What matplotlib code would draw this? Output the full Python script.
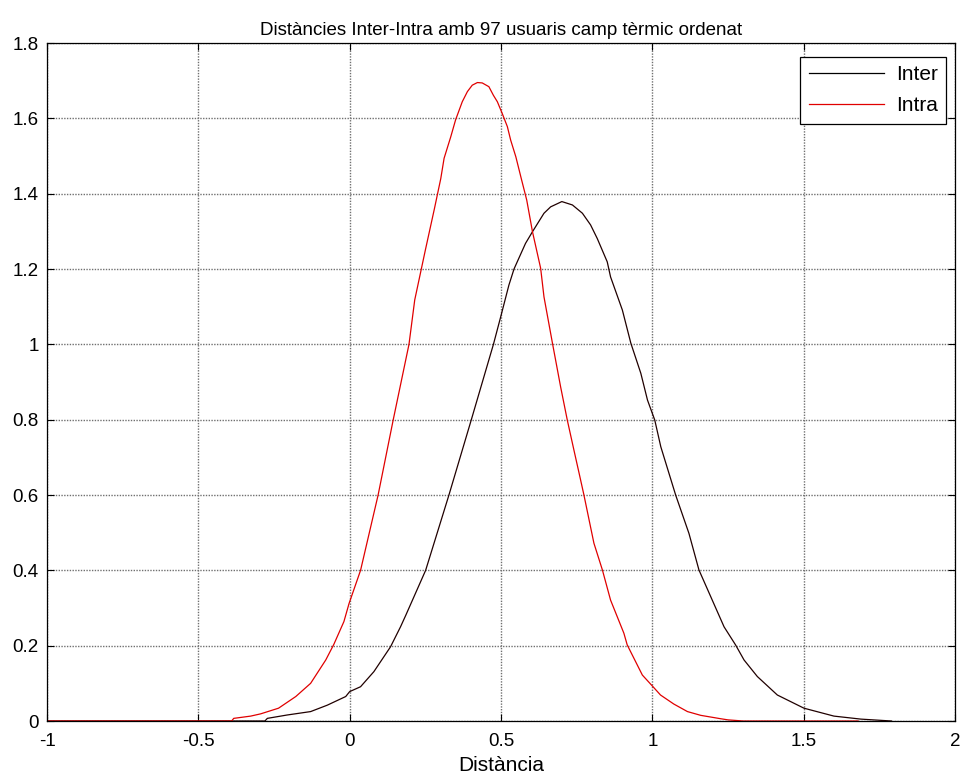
import matplotlib
matplotlib.use("Agg")
import matplotlib.pyplot as plt

plt.rcParams['font.family'] = ['Liberation Sans', 'DejaVu Sans']

title = "Distàncies Inter-Intra amb 97 usuaris camp tèrmic ordenat"
xlabel = "Distància"
series_names = ["Inter", "Intra"]

x_inter = [-1.0, -0.28, -0.272, -0.206, -0.129, -0.074, -0.013, 0.0, 0.036, 0.080, 0.135,
           0.168, 0.185, 0.251, 0.328, 0.402, 0.475, 0.499, 0.526, 0.543, 0.581, 0.604,
           0.642, 0.664, 0.701, 0.736, 0.769, 0.796, 0.818, 0.851, 0.862, 0.901, 0.929,
           0.962, 0.984, 1.008, 1.028, 1.077, 1.121, 1.154, 1.193, 1.237, 1.275, 1.303,
           1.347, 1.413, 1.501, 1.600, 1.689, 1.79]
y_inter = [0, 0, 0.007, 0.016, 0.025, 0.042, 0.065, 0.078, 0.091, 0.131, 0.197,
           0.250, 0.28, 0.40, 0.60, 0.80, 1.0, 1.073, 1.157, 1.20, 1.268, 1.299,
           1.348, 1.365, 1.379, 1.370, 1.348, 1.317, 1.281, 1.219, 1.179, 1.091, 1.003,
           0.923, 0.852, 0.799, 0.728, 0.600, 0.498, 0.401, 0.330, 0.250, 0.202, 0.162,
           0.118, 0.069, 0.034, 0.013, 0.005, 0]

x_intra = [-1.0, -0.39, -0.383, -0.327, -0.294, -0.235, -0.178, -0.129, -0.079, -0.052,
           -0.019, -0.002, 0.036, 0.094, 0.144, 0.196, 0.215, 0.25, 0.28, 0.301, 0.312,
           0.334, 0.350, 0.372, 0.389, 0.405, 0.422, 0.438, 0.460, 0.475, 0.488, 0.504,
           0.521, 0.532, 0.549, 0.567, 0.585, 0.604, 0.631, 0.642, 0.670, 0.697, 0.719,
           0.741, 0.758, 0.774, 0.791, 0.807, 0.835, 0.862, 0.906, 0.917, 0.967, 1.0,
           1.027, 1.071, 1.116, 1.16, 1.226, 1.25, 1.3, 1.68]
y_intra = [0, 0, 0.007, 0.013, 0.019, 0.034, 0.065, 0.100, 0.162, 0.204,
           0.264, 0.312, 0.40, 0.60, 0.80, 1.0, 1.118, 1.25, 1.36, 1.44, 1.494,
           1.551, 1.596, 1.644, 1.671, 1.688, 1.695, 1.694, 1.684, 1.661, 1.644, 1.613,
           1.578, 1.542, 1.498, 1.440, 1.383, 1.299, 1.202, 1.126, 1.003, 0.887, 0.799,
           0.719, 0.658, 0.600, 0.534, 0.472, 0.401, 0.321, 0.233, 0.202, 0.122, 0.093,
           0.069, 0.045, 0.025, 0.015, 0.006, 0.003, 0, 0]

xticks = [-1, -0.5, 0, 0.5, 1, 1.5, 2]
xticklabels = ["-1", "-0.5", "0", "0.5", "1", "1.5", "2"]
yticks = [0, 0.2, 0.4, 0.6, 0.8, 1, 1.2, 1.4, 1.6, 1.8]
yticklabels = ["0", "0.2", "0.4", "0.6", "0.8", "1", "1.2", "1.4", "1.6", "1.8"]

fig = plt.figure(figsize=(9.64, 7.82), dpi=100)
ax = fig.add_axes([47/964, 61/782, 908/964, 678/782])

ax.plot(x_inter, y_inter, color='#200000', lw=0.9, label=series_names[0])
ax.plot(x_intra, y_intra, color='#e00000', lw=0.9, label=series_names[1])

ax.set_xlim(-1, 2)
ax.set_ylim(0, 1.8)
ax.set_xticks(xticks)
ax.set_xticklabels(xticklabels)
ax.set_yticks(yticks)
ax.set_yticklabels(yticklabels)
ax.tick_params(direction='in', top=True, right=True, labelsize=13.5, length=5, width=0.8, pad=6)
ax.tick_params(axis='x', pad=9)
ax.grid(True, color='#707070', linestyle=(0, (1, 1)), linewidth=1.0)
for s in ax.spines.values():
    s.set_linewidth(0.9)

ax.set_title(title, fontsize=13.5, pad=6)
ax.set_xlabel(xlabel, fontsize=15, labelpad=4)

leg = ax.legend(loc='upper right', bbox_to_anchor=(0.9905, 0.98), fontsize=15,
                fancybox=False, framealpha=1, edgecolor='black', handlelength=3.6,
                borderpad=0.4, labelspacing=0.6, handletextpad=0.6, borderaxespad=0)
leg.get_frame().set_linewidth(0.9)
leg.get_lines()[0].set_color('black')

fig.savefig("out.png", dpi=100)
